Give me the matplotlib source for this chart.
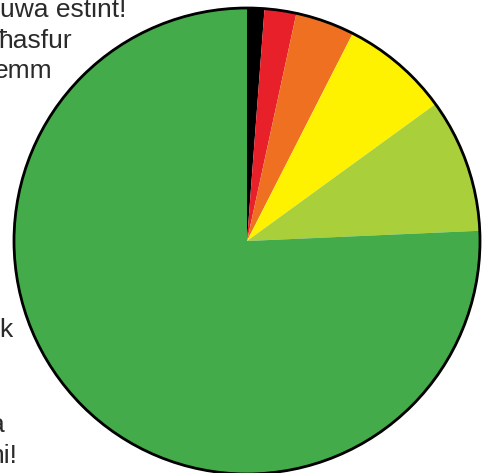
import matplotlib
matplotlib.use("Agg")
import matplotlib.pyplot as plt
from matplotlib.patches import Circle

# Data (percent of species per category, clockwise from 12 o'clock)
categories = ["Estint", "Kritiku", "Fil-periklu", "Vulnerabbli", "Qrib it-theddida", "L-inqas imħasba"]
values = [1.2, 2.2, 4.1, 7.5, 9.3, 75.7]
colors = ["#000000", "#e8202a", "#f07022", "#fff200", "#a9cf3a", "#43ab4a"]

# Cut-off text fragments at the left edge
label_texts = ["uwa estint!", "ħasfur", "emm", "k", "a", "hi!"]

W, H = 486, 473
fig = plt.figure(figsize=(W / 100, H / 100), dpi=100)
ax = fig.add_axes([0, 0, 1, 1])

cx, cy, r = 247, H - 241, 233
ax.pie(values, colors=colors, startangle=90, counterclock=False,
       center=(cx, cy), radius=r, frame=False,
       wedgeprops=dict(linewidth=0, antialiased=True))
ax.add_patch(Circle((cx, cy), r, fill=False, edgecolor="black", linewidth=2.0, zorder=5))

ax.set_xlim(0, W)
ax.set_ylim(0, H)
ax.set_aspect("equal")
ax.axis("off")

# text positions (right edge x, baseline y in pixel coords from top)
text_pos = [(126, 17), (72, 48), (52, 78), (12, 337), (5, 432), (17, 463)]
for t, (x, y) in zip(label_texts, text_pos):
    ax.text(x, H - y, t, ha="right", va="baseline", fontsize=19,
            family=["Liberation Sans", "DejaVu Sans"], color="#2a2a2a")

fig.savefig("out.png", dpi=100)
